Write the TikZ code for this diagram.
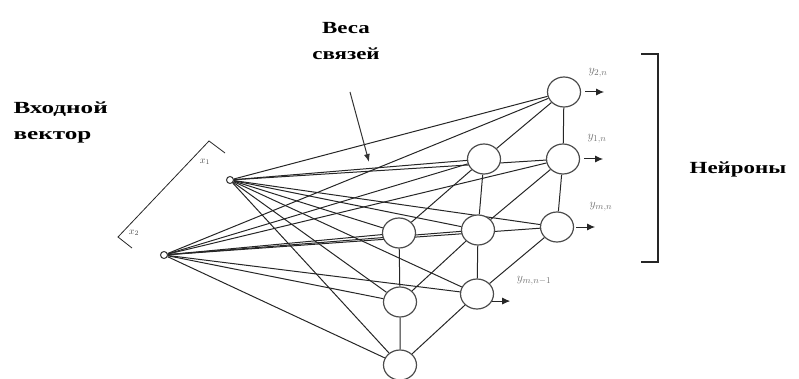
\documentclass[tikz,border=0pt]{standalone}
\usepackage{fontspec}
\setmainfont{Liberation Serif}
\newfontfamily\headfont[FakeStretch=1.35]{Liberation Serif}
\newfontfamily\headfontwide[FakeStretch=1.48]{Liberation Serif}
\usetikzlibrary{arrows.meta,shapes.geometric}
\pgfdeclarelayer{bg}
\pgfsetlayers{bg,main}

\begin{document}
\begin{tikzpicture}[x=1pt,y=-1pt,
  link/.style={draw=black!85, line width=1pt},
  neuron/.style={ellipse, draw=black!70, line width=1.2pt, fill=white,
    minimum width=33pt, minimum height=30pt, inner sep=0pt},
  innode/.style={circle, draw=black!80, line width=1pt, fill=white,
    minimum size=7pt, inner sep=0pt},
  head/.style={font=\headfont\bfseries\fontsize{17}{26}\selectfont, text=black},
  outlbl/.style={font=\fontsize{13}{15}\selectfont, text=black!55},
  inlbl/.style={font=\fontsize{10}{12}\selectfont, text=black!70},
  outarrow/.style={draw=black!85, line width=1pt, -{Latex[length=8pt,width=7pt]}},
  pointer/.style={draw=black!80, line width=1pt, -{Latex[length=8pt,width=6pt]}}
]
\useasboundingbox (0,0) rectangle (799,379);

% captions
\node[head, align=center] (wcap) at (346,41) {Веса\\связей};
\node[head, font=\headfontwide\bfseries\fontsize{17}{26}\selectfont,
      align=left, anchor=west] (incap) at (10,122) {Входной\\вектор};
\node[head] (ncap) at (738,169) {Нейроны};

% input vector
\node[innode] (x1) at (230,180) {};
\node[innode] (x2) at (164,255) {};
\coordinate (vlo) at (118,237);
\coordinate (vhi) at (209,141);
\coordinate (vlot) at (132,248);
\coordinate (vhit) at (225,153);
\draw[link, line width=0.8pt] (vlot) -- (vlo) -- (vhi) -- (vhit);
\node[inlbl] (lx1) at (205,162) {$x_1$};
\node[inlbl] (lx2) at (134,233) {$x_2$};

% neurons: three columns
\node[neuron] (A) at (564,92) {};
\node[neuron] (B) at (563,159) {};
\node[neuron] (D) at (557,227) {};
\node[neuron] (C) at (484,159) {};
\node[neuron] (E) at (478,230) {};
\node[neuron] (G) at (477,294) {};
\node[neuron] (F) at (399,233) {};
\node[neuron] (H) at (400,302) {};
\node[neuron] (I) at (400,365) {};

\begin{pgfonlayer}{bg}
  % every input feeds every neuron
  \foreach \n in {A,B,C,D,E,F,G,H,I} {
    \draw[link] (x1) -- (\n);
    \draw[link] (x2) -- (\n);
  }
  % lattice between neurons
  \draw[link] (F) -- (H) -- (I);
  \draw[link] (C) -- (E) -- (G);
  \draw[link] (A) -- (B) -- (D);
  \draw[link] (F) -- (C) -- (A);
  \draw[link] (H) -- (E) -- (B);
  \draw[link] (I) -- (G) -- (D);
\end{pgfonlayer}

% outputs
\draw[outarrow] ([xshift=4pt]A.east) -- ++(19,0);
\draw[outarrow] ([xshift=4pt]B.east) -- ++(19,0);
\draw[outarrow] ([xshift=2pt]D.east) -- ++(19,0);
\draw[outarrow] (G.-25) -- ++(18,0);
\node[outlbl] (ly2) at (598,73) {$y_{2,n}$};
\node[outlbl] (ly1) at (597,139) {$y_{1,n}$};
\node[outlbl] (lym) at (601,207) {$y_{m,n}$};
\node[outlbl] (lym1) at (534,281) {$y_{m,n-1}$};

% pointer to the weights
\coordinate (wtail) at (350,92);
\coordinate (whead) at (369,162);
\draw[pointer] (wtail) -- (whead);

% bracket around the neurons
\coordinate (b1) at (641,54);
\coordinate (b2) at (658,54);
\coordinate (b3) at (658,262);
\coordinate (b4) at (641,262);
\draw[draw=black!85, line width=1.2pt] (b1) -- (b2) -- (b3) -- (b4);
\end{tikzpicture}
\end{document}
